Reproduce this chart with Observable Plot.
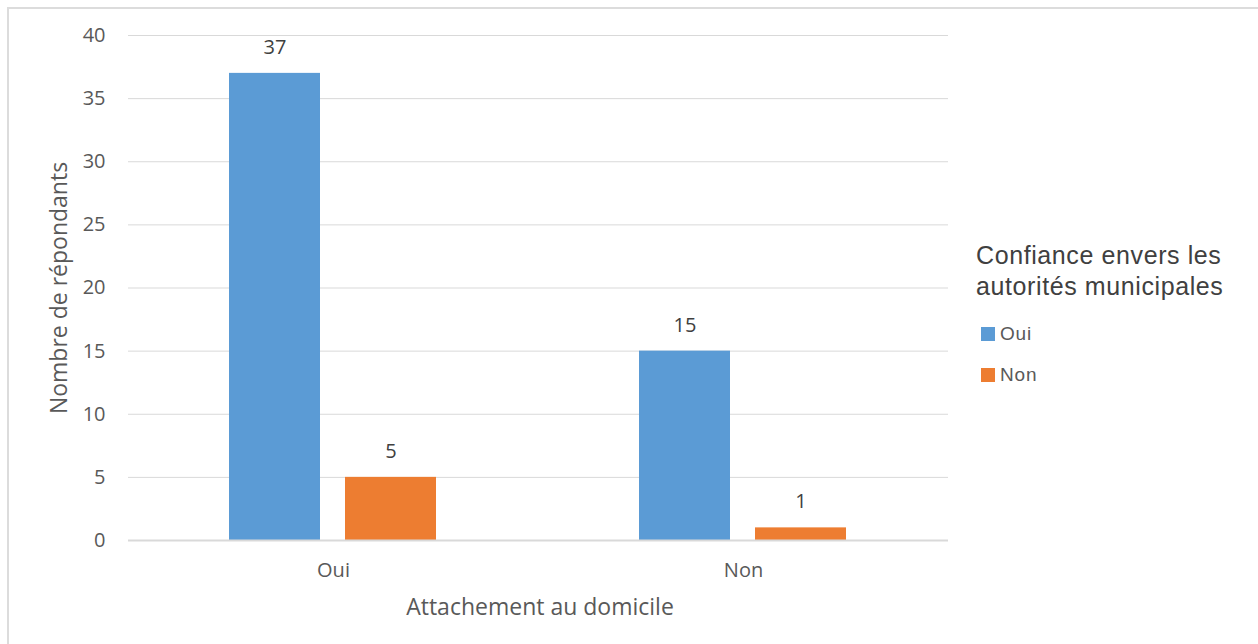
<!DOCTYPE html>
<html>
<head>
<meta charset="utf-8">
<script src="https://cdn.jsdelivr.net/npm/d3@7"></script>
<script src="https://cdn.jsdelivr.net/npm/@observablehq/plot@0.6"></script>
<style>
  html, body { margin: 0; padding: 0; background: #fff; }
  #wrap { position: relative; width: 1258px; height: 644px; overflow: hidden; }
  #frame { position: absolute; left: 7px; top: 7px; width: 1300px; height: 700px; border: 2px solid #dcdcdc; pointer-events: none; }
  #legend { position: absolute; left: 976px; top: 240px; font-family: "Liberation Sans", Arial, sans-serif; color: #404040; }
  #legend .title { font-size: 25px; line-height: 31px; letter-spacing: 0.6px; }
  #legend .item { display: flex; align-items: center; font-size: 19px; letter-spacing: 0.8px; color: #595959; height: 20px; }
  #legend .sw { width: 14px; height: 14px; margin-left: 5px; margin-right: 5px; }
</style>
</head>
<body>
<div id="wrap"><div id="frame"></div><div id="legend"></div></div>
<script>
const attachement = ["Oui", "Non"];
const confiance = ["Oui", "Non"];
const valuesOui = [37, 15];   // Confiance = Oui
const valuesNon = [5, 1];     // Confiance = Non
const yTicks = [0, 5, 10, 15, 20, 25, 30, 35, 40];
const colors = ["#5B9BD5", "#ED7D31"];
const legendTitle = ["Confiance envers les", "autorités municipales"];

const data = [];
attachement.forEach((a, i) => {
  data.push({attachement: a, confiance: confiance[0], value: valuesOui[i]});
  data.push({attachement: a, confiance: confiance[1], value: valuesNon[i]});
});

const font = "'Open Sans', sans-serif";
const chart = Plot.plot({
  width: 1258,
  height: 644,
  marginLeft: 128,
  marginRight: 310,
  marginTop: 35,
  marginBottom: 104,
  style: {fontFamily: font, fontSize: "20px", color: "#595959", background: "transparent"},
  fx: {domain: attachement, padding: 0, label: null},
  x: {domain: confiance, paddingInner: 0.214, paddingOuter: 0.87, axis: null},
  y: {domain: [0, 40], ticks: yTicks, label: null},
  color: {domain: confiance, range: colors},
  marks: [
    Plot.ruleY(yTicks.filter(d => d > 0), {stroke: "#d9d9d9", strokeWidth: 1}),
    Plot.axisY({ticks: yTicks, tickSize: 0, tickPadding: 23, fontSize: 20, label: null}),
    Plot.axisFx({anchor: "bottom", tickSize: 0, tickPadding: 22, fontSize: 20, label: null}),
    Plot.barY(data, {fx: "attachement", x: "confiance", y: "value", fill: "confiance"}),
    Plot.text(data, {fx: "attachement", x: "confiance", y: "value", text: d => String(d.value), dy: -26, fontSize: 20, fill: "#404040"}),
    Plot.ruleY([0], {stroke: "#d9d9d9", strokeWidth: 2})
  ]
});

// axis titles
const svg = d3.select(chart);
svg.append("text")
  .attr("transform", "translate(61,288) rotate(-90)")
  .attr("text-anchor", "middle").attr("dominant-baseline", "middle")
  .attr("font-family", font).attr("font-size", 23).attr("fill", "#595959")
  .text("Nombre de répondants");
svg.append("text")
  .attr("x", 540).attr("y", 609)
  .attr("text-anchor", "middle").attr("dominant-baseline", "middle")
  .attr("font-family", font).attr("font-size", 23).attr("fill", "#595959")
  .text("Attachement au domicile");

document.getElementById("wrap").prepend(chart);
chart.style.position = "absolute";
chart.style.left = "0";
chart.style.top = "0";

const legend = document.getElementById("legend");
const t = document.createElement("div");
t.className = "title";
t.innerHTML = legendTitle.join("<br>");
legend.appendChild(t);
confiance.forEach((c, i) => {
  const it = document.createElement("div");
  it.className = "item";
  it.style.marginTop = i === 0 ? "22px" : "21px";
  const sw = document.createElement("span");
  sw.className = "sw"; sw.style.background = colors[i];
  const lb = document.createElement("span");
  lb.textContent = c;
  it.appendChild(sw); it.appendChild(lb);
  legend.appendChild(it);
});
</script>
</body>
</html>
